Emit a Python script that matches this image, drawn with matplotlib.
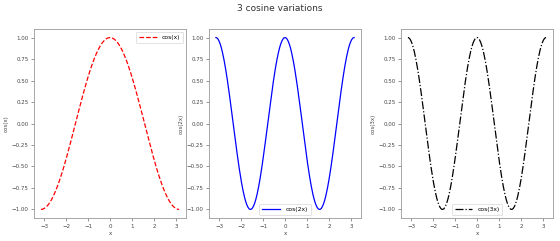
import numpy as np
import matplotlib
matplotlib.use("Agg")
import matplotlib.pyplot as plt

x = np.linspace(-np.pi, np.pi, 256)
y1 = np.cos(x)
y2 = np.cos(2 * x)
y3 = np.cos(2 * x)
labels = ["cos(x)", "cos(2x)", "cos(3x)"]
ylabels = ["cos(x)", "cos(2x)", "cos(3x)"]
colors = ["red", "blue", "black"]
styles = ["--", "-", "-."]
locs = ["upper right", "lower center", "lower center"]

fig = plt.figure(figsize=(5.6, 2.41), dpi=100)
lefts = [34 / 560, 209 / 560, 401 / 560]
width = 152 / 560
bottom = 1 - 218 / 241
height = (218 - 29) / 241
gray = "#999999"
for i, y in enumerate([y1, y2, y3]):
    ax = fig.add_axes([lefts[i], bottom, width, height])
    ax.plot(x, y, color=colors[i], linestyle=styles[i], linewidth=0.9, label=labels[i])
    ax.set_xlabel("x", fontsize=4, color="#444444", labelpad=2)
    ax.set_ylabel(ylabels[i], fontsize=4, color="#444444", labelpad=2)
    ax.tick_params(labelsize=4, colors="#444444", length=2, width=0.4, pad=2)
    for s in ax.spines.values():
        s.set_color(gray)
        s.set_linewidth(0.6)
    ax.set_xticks([-3, -2, -1, 0, 1, 2, 3])
    ax.set_yticks([-1, -0.75, -0.5, -0.25, 0, 0.25, 0.5, 0.75, 1.0])
    ax.set_ylim(-1.1, 1.1)
    leg = ax.legend(loc=locs[i], fontsize=4.3, handlelength=3, borderpad=0.5, framealpha=1)
    leg.get_frame().set_linewidth(0.4)

fig.suptitle("3 cosine variations", fontsize=6.5, color="#333333", y=0.985)
fig.savefig("out.png", dpi=100)
